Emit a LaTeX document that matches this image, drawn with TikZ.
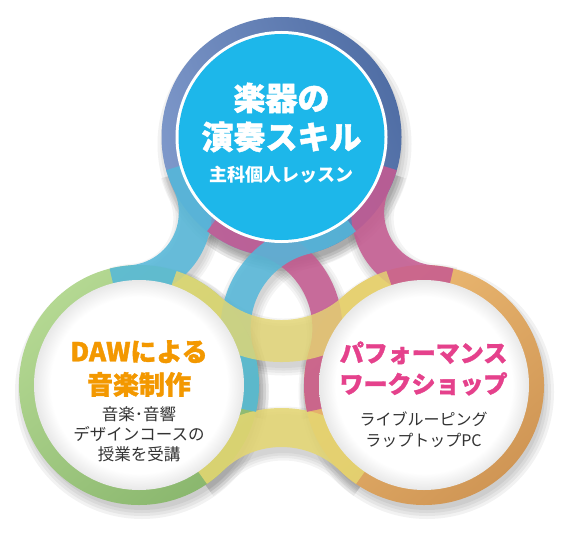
\documentclass[tikz,border=0pt]{standalone}
\usepackage{fontspec}
\setmainfont{Noto Sans CJK JP}
\newfontfamily\headfont{Noto Sans CJK JP}[BoldFeatures={FakeBold=1.4}]
\definecolor{diskT}{RGB}{29,183,234}
\definecolor{ringTa}{RGB}{126,152,202}
\definecolor{ringTb}{RGB}{80,110,165}
\definecolor{ringLa}{RGB}{180,216,146}
\definecolor{ringLb}{RGB}{138,183,110}
\definecolor{ringRa}{RGB}{238,188,116}
\definecolor{ringRb}{RGB}{208,150,85}
\definecolor{bandC}{RGB}{84,184,218}
\definecolor{bandM}{RGB}{198,90,145}
\definecolor{bandY}{RGB}{229,215,114}
\definecolor{txtO}{RGB}{243,152,0}
\definecolor{txtM}{RGB}{229,65,140}
\definecolor{txtD}{RGB}{51,51,51}
\pgfdeclareradialshading{diskshade}{\pgfpoint{0bp}{0bp}}{color(0bp)=(white); color(21bp)=(white); color(25bp)=(black!9); color(50bp)=(black!9)}
\newcommand\pathCo{([shift={(T)}]164.13:103.5) arc[start angle=164.13, end angle=154.13, radius=103.5] arc[start angle=-25.87, end angle=85.62, radius=69.5] arc[start angle=-94.38, end angle=-104.38, radius=103.5]}
\newcommand\pathCi{([shift={(T)}]51.5:105) arc[start angle=51.5, end angle=76.53, radius=105] arc[start angle=256.53, end angle=163.21, radius=91.7] arc[start angle=-16.79, end angle=13, radius=105]}
\newcommand\pathMi{([shift={(T)}]128.5:105) arc[start angle=128.5, end angle=103.47, radius=105] arc[start angle=-76.53, end angle=16.79, radius=91.7] arc[start angle=196.79, end angle=167, radius=105]}
\newcommand\pathMo{([shift={(T)}]15.87:103.5) arc[start angle=15.87, end angle=25.87, radius=103.5] arc[start angle=205.87, end angle=94.38, radius=69.5] arc[start angle=274.38, end angle=284.38, radius=103.5]}
\newcommand\pathYu{([shift={(L)}]-72:99) arc[start angle=-72, end angle=-47.77, radius=99] arc[start angle=132.23, end angle=47.77, radius=113] arc[start angle=227.77, end angle=252, radius=99]}
\newcommand\pathYl{([shift={(L)}]55.7:100.5) arc[start angle=55.7, end angle=45.7, radius=100.5] arc[start angle=225.7, end angle=314.3, radius=103.5] arc[start angle=134.3, end angle=124.3, radius=100.5]}
\tikzset{
  bandstroke/.style={draw=#1, opacity=0.86},
  bandshadow/.style={draw=black, opacity=0.045, shift={(2,6)}},
  headT/.style={text=white, font=\headfont\bfseries\fontsize{32}{39}\selectfont, align=center, inner sep=0},
  subT/.style={text=white, font=\bfseries\fontsize{18}{22}\selectfont, inner sep=0},
  headL/.style={text=txtO, font=\headfont\bfseries\fontsize{26}{33}\selectfont, align=center, inner sep=0},
  headR/.style={text=txtM, font=\headfont\bfseries\fontsize{24}{31}\selectfont, align=center, inner sep=0},
  subtxt/.style={text=txtD, align=center, inner sep=0}
}
\begin{document}
\begin{tikzpicture}[x=1pt,y=-1pt]
\fill[white] (0,0) rectangle (572,532);
\useasboundingbox (0,0) rectangle (572,532);
\coordinate (T) at (281.5,137);
\coordinate (L) at (139,385);
\coordinate (R) at (424,385);
% soft shadows
\foreach \w in {0,5,10,15}{
  \draw[bandshadow, line width=33+\w] \pathCo;
  \draw[bandshadow, line width=33+\w] \pathMo;
  \draw[bandshadow, line width=30+\w] \pathCi;
  \draw[bandshadow, line width=30+\w] \pathMi;
  \draw[bandshadow, line width=42+\w] \pathYu;
  \draw[bandshadow, line width=39+\w] \pathYl;
}
\foreach \k in {0,3,6,9}{
  \fill[black, opacity=0.05] ([shift={(3,7)}]T) circle[radius=118+\k];
  \fill[black, opacity=0.05] ([shift={(3,7)}]L) circle[radius=118+\k];
  \fill[black, opacity=0.05] ([shift={(3,7)}]R) circle[radius=118+\k];
}
% rings
\shade[left color=ringTa, right color=ringTb, shading angle=110] (T) circle[radius=120];
\shade[top color=ringLa, bottom color=ringLb, shading angle=40] (L) circle[radius=120];
\shade[top color=ringRa, bottom color=ringRb, shading angle=40] (R) circle[radius=120];
% bands
\draw[bandstroke=bandY, line width=39] \pathYl;
\draw[bandstroke=bandC, line width=33] \pathCo;
\draw[bandstroke=bandM, line width=33] \pathMo;
\draw[bandstroke=bandM, line width=30] \pathMi;
\draw[bandstroke=bandC, line width=30] \pathCi;
\draw[bandstroke=bandY, line width=42, opacity=0.8] \pathYu;
% disks
\fill[white] (T) circle[radius=106];
\fill[diskT] (T) circle[radius=103];
\shade[shading=diskshade] (L) circle[radius=105];
\shade[shading=diskshade] (R) circle[radius=105];
% texts
\node[headT] (tTitle) at (281.5,117.5) {楽器の\\演奏スキル};
\node[subT] (tSub) at (281.5,175) {主科個人レッスン};
\node[headL] (lTitle) at (139,368.5) {DAWによる\\音楽制作};
\node[subtxt, font=\fontsize{16.5}{20}\selectfont] (lSub) at (139,434) {音楽･音響\\デザインコースの\\授業を受講};
\node[headR] (rTitle) at (423.5,368.5) {パフォーマンス\\ワークショップ};
\node[subtxt, font=\fontsize{16}{21}\selectfont] (rSub) at (423.5,429.5) {ライブルーピング\\ラップトップPC};
\end{tikzpicture}
\end{document}
